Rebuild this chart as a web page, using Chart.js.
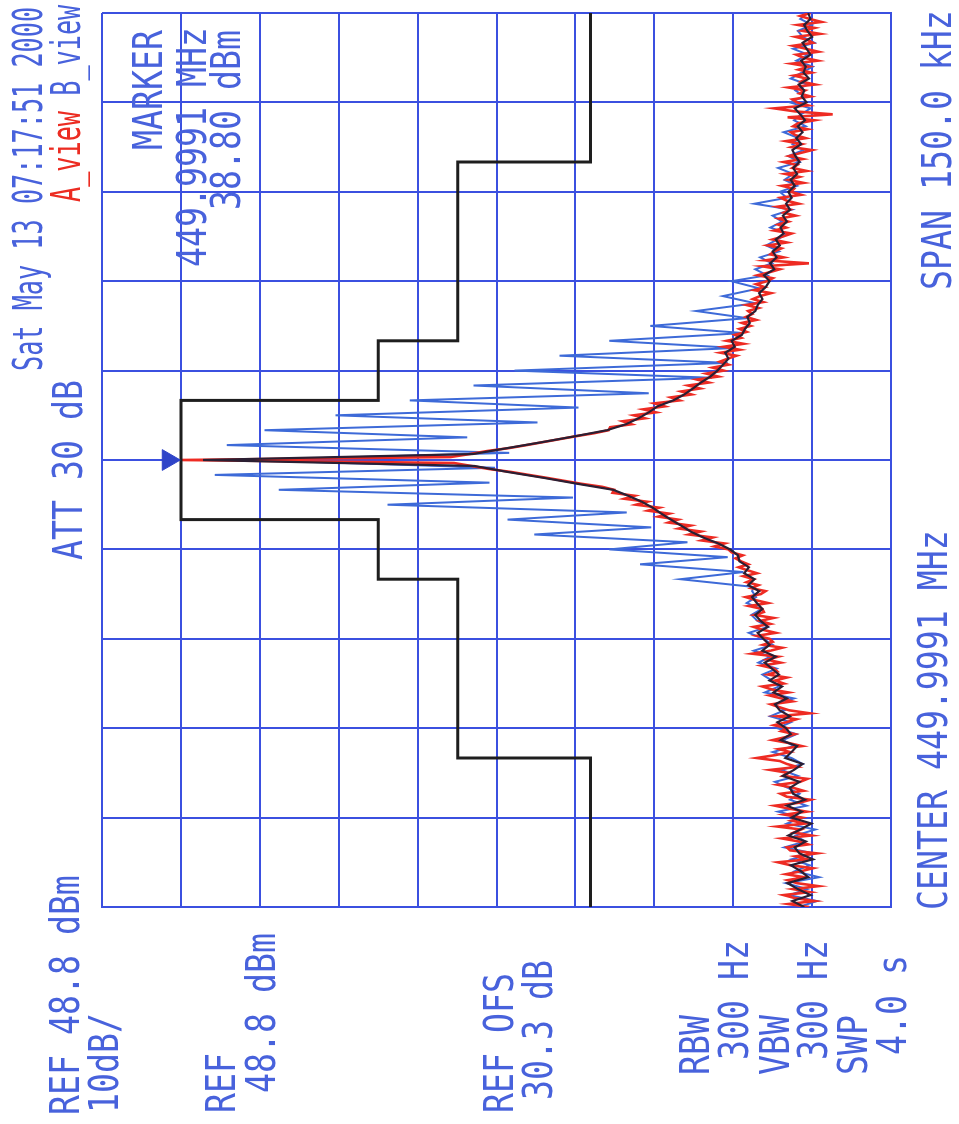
<!DOCTYPE html>
<html>
<head>
<meta charset="utf-8">
<script src="https://cdn.jsdelivr.net/npm/chart.js@4.4.1/dist/chart.umd.min.js"></script>
<style>
  html, body { margin: 0; padding: 0; background: #fff; overflow: hidden; }
  /* the analyzer screen is drawn upright, then turned a quarter turn to the left */
  #screen {
    position: absolute; left: 0; top: 0; width: 1124px; height: 959px;
    transform-origin: 0 0; transform: translateY(1124px) rotate(-90deg);
    background: #fff;
  }
  #screen canvas { position: absolute; left: 0; top: 0; }
  .t {
    position: absolute; font-family: "DejaVu Sans Mono", monospace;
    font-size: 40px; line-height: 40px; color: #4862dc; white-space: pre;
    transform-origin: 0 0; transform: scaleX(0.83);
  }
  .hd { transform: scaleX(0.63); }
  .red { color: #ec2c22; }
</style>
</head>
<body>
<div id="screen">
  <canvas id="chart" width="1124" height="959"></canvas>

  <div class="t hd" style="left:753px; top:8px">Sat May 13 07:17:51 2000</div>
  <div class="t hd" style="left:922px; top:46px"><span class="red">A_view</span> B_view</div>
  <div class="t" style="left:564px; top:48px">ATT 30 dB</div>

  <div class="t" style="left:974px; top:128px">MARKER</div>
  <div class="t" style="left:857px; top:172px">449.9991 MHz</div>
  <div class="t" style="left:914px; top:206px">38.80 dBm</div>

  <div class="t" style="left:834px; top:917px">SPAN 150.0 kHz</div>
  <div class="t" style="left:214px; top:913px">CENTER 449.9991 MHz</div>

  <div class="t" style="left:9px; top:45px">REF 48.8 dBm</div>
  <div class="t" style="left:11px; top:84px">10dB/</div>
  <div class="t" style="left:11px; top:201px">REF</div>
  <div class="t" style="left:31px; top:241px">48.8 dBm</div>
  <div class="t" style="left:11px; top:479px">REF OFS</div>
  <div class="t" style="left:24px; top:518px">30.3 dB</div>
  <div class="t" style="left:49px; top:675px">RBW</div>
  <div class="t" style="left:64px; top:714px">300 Hz</div>
  <div class="t" style="left:49px; top:755px">VBW</div>
  <div class="t" style="left:64px; top:793px">300 Hz</div>
  <div class="t" style="left:49px; top:833px">SWP</div>
  <div class="t" style="left:69px; top:872px">4.0 s</div>
</div>

<script>
// frequency offset from centre, kHz (span 150 kHz, 15 kHz/div)
const gridFreq = [-75, -60, -45, -30, -15, 0, 15, 30, 45, 60, 75];
// power, dBm (ref 48.8 dBm, 10 dB/div)
const gridDbm = [48.8, 38.8, 28.8, 18.8, 8.8, -1.2, -11.2, -21.2, -31.2, -41.2, -51.2];

// A_view (red), one reading every 0.5 kHz from -75 to +75
const redStart = -75, redStep = 0.5;
const redDbm = [
  -40.8, -38.2, -41.5, -39.0, -37.6, -40.9, -38.8, -42.0, -39.3, -38.1,
  -40.2, -37.9, -39.8, -41.3, -38.5, -36.9, -40.6, -39.1, -41.8, -38.4,
  -38.0, -40.7, -39.5, -37.4, -41.1, -38.9, -39.8, -36.8, -40.3, -38.6,
  -39.9, -37.7, -40.5, -38.3, -36.5, -39.6, -41.0, -38.0, -37.2, -40.1,
  -38.8, -36.9, -39.7, -40.6, -37.5, -38.2, -35.9, -39.3, -38.0, -37.1,
  -34.2, -36.6, -38.4, -37.0, -39.9, -38.3, -36.2, -37.8, -39.0, -37.3,
  -38.1, -36.4, -37.9, -39.2, -36.8, -40.9, -38.3, -37.1, -36.0, -38.7,
  -37.3, -35.8, -38.2, -36.1, -34.9, -37.6, -36.5, -38.0, -35.6, -36.8,
  -36.4, -34.8, -37.2, -35.5, -36.9, -33.6, -35.9, -37.4, -35.0, -36.2,
  -35.8, -34.2, -36.6, -35.0, -33.8, -35.9, -34.6, -36.3, -33.9, -35.1,
  -34.9, -33.2, -35.6, -34.0, -32.8, -34.7, -35.3, -33.5, -34.4, -32.9,
  -33.8, -32.5, -34.2, -33.0, -31.9, -33.1, -32.2, -31.5, -32.4, -31.0,
  -30.6, -28.8, -30.1, -27.2, -28.6, -25.6, -27.1, -24.3, -25.8, -23.0,
  -24.2, -21.7, -23.1, -20.4, -21.8, -18.9, -20.3, -17.4, -18.7, -15.9,
  -16.1, -14.6, -12.0, -9.8, -7.6, -5.3, -3.0, -0.2, 2.0, 4.2,
  38.8,
  4.6, 2.2, 0.0, -2.8, -5.0, -7.1, -9.2, -11.3, -13.6, -15.4,
  -15.6, -18.3, -17.2, -20.0, -18.6, -21.4, -19.8, -22.5, -21.2, -24.4,
  -23.3, -25.9, -24.6, -27.0, -25.5, -28.1, -26.6, -29.3, -27.8, -30.0,
  -28.6, -30.6, -29.5, -30.5, -31.6, -29.6, -32.0, -30.0, -32.5, -30.4,
  -32.2, -31.4, -32.9, -32.0, -33.4, -32.3, -34.1, -32.8, -33.6, -33.1,
  -34.4, -32.9, -35.0, -33.7, -34.6, -36.0, -33.9, -35.2, -34.1, -35.5,
  -36.2, -34.3, -35.8, -37.1, -34.9, -40.8, -35.3, -37.6, -35.9, -36.4,
  -37.3, -35.6, -38.0, -36.2, -37.5, -38.6, -36.4, -37.9, -36.9, -38.2,
  -37.0, -39.1, -37.6, -38.4, -36.8, -39.5, -38.0, -37.2, -39.8, -38.5,
  -38.9, -37.4, -40.1, -38.2, -39.6, -37.8, -40.5, -38.7, -39.3, -37.6,
  -40.0, -38.3, -39.7, -41.2, -38.6, -39.9, -37.9, -40.4, -39.1, -38.5,
  -40.6, -38.8, -39.4, -41.5, -38.1, -43.8, -39.0, -36.4, -40.7, -39.3,
  -38.7, -41.0, -39.6, -40.3, -38.2, -41.6, -39.8, -40.5, -38.9, -41.1,
  -39.5, -40.8, -38.6, -41.9, -40.1, -39.2, -42.0, -40.4, -38.8, -41.3,
  -40.6, -39.1, -42.2, -40.0, -41.5, -39.4, -42.4, -40.9, -39.7, -41.0
];

// B_view (blue): noise floor below -22 kHz and above +32 kHz, 1 kHz apart
const blueLowStart = -75;
const blueLowDbm = [
  -39.5, -41.8, -38.3, -40.6, -37.9, -42.1, -39.0, -40.9, -38.6, -41.4,
  -37.7, -40.3, -39.1, -41.6, -38.0, -39.8, -36.9, -40.5, -38.4, -39.6,
  -38.1, -36.5, -39.4, -37.3, -40.0, -38.6, -36.2, -38.9, -37.5, -39.2,
  -36.8, -38.5, -35.9, -37.7, -36.4, -38.9, -35.2, -37.0, -36.1, -34.9,
  -36.7, -34.4, -35.9, -33.8, -36.2, -35.0, -33.2, -35.6, -34.3, -33.5,
  -34.8, -32.9, -34.1
];
// B_view sidebands: peaks every 2.5 kHz with the dips between them
const blueMidFreq = [
  -22, -21.3, -20, -18.8, -17.5, -16.3, -15, -13.8, -12.5, -11.3,
  -10, -8.8, -7.5, -6.3, -5, -3.8, -2.5, -1.3, 0, 1.2,
  2.5, 3.8, 5, 6.3, 7.5, 8.8, 10, 11.2, 12.5, 13.8,
  15, 16.3, 17.5, 18.8, 20, 21.3, 22.5, 23.8, 25, 26.3,
  27.5, 28.8, 30, 31, 32
];
const blueMidDbm = [
  -33.6, -33.8, -24.5, -32.5, -19.4, -30.5, -15.5, -25.4, -6.0, -20.8,
  -2.6, -17.7, 12.6, -10.9, 26.4, -0.3, 34.5, -1.0, 30.0, -2.8,
  33.0, 2.5, 28.2, -6.4, 19.2, -11.6, 9.8, -20.5, 1.7, -28.5,
  -3.5, -30.5, -9.2, -31.5, -15.5, -32.5, -20.7, -33.0, -26.5, -34.0,
  -29.9, -34.5, -31.0, -35.5, -34.0
];
const blueHighStart = 33;
const blueHighDbm = [
  -36.1, -34.6, -37.0, -35.4, -36.8, -38.1, -35.9, -37.4, -36.2, -38.6,
  -33.9, -38.0, -37.1, -39.3, -37.7, -38.8, -36.9, -39.6, -38.2, -40.1,
  -38.7, -39.5, -37.6, -40.4, -38.9, -39.8, -41.0, -38.4, -40.2, -39.1,
  -40.6, -38.5, -39.9, -41.3, -39.2, -40.7, -38.8, -41.5, -40.0, -39.4,
  -41.2, -39.7, -40.6
];

// dark trace where both views overprint, 1 kHz apart from -75 to +75
const darkStart = -75, darkStep = 1;
const darkDbm = [
  -40.2, -38.7, -41.0, -39.4, -38.1, -40.7, -39.8, -38.5, -41.3, -39.6,
  -39.0, -40.4, -38.2, -39.7, -41.1, -38.6, -39.9, -38.0, -40.3, -38.8,
  -38.4, -39.6, -37.5, -38.9, -40.0, -37.8, -38.6, -39.3, -37.2, -38.5,
  -37.9, -36.8, -38.4, -37.1, -36.5, -38.0, -36.3, -37.4, -35.8, -37.0,
  -36.1, -35.2, -36.6, -34.9, -35.8, -35.0, -34.3, -35.6, -34.7, -34.0,
  -34.9, -34.2, -33.6, -34.5, -33.1, -33.9, -32.6, -33.2, -32.0, -31.8,
  -30.8, -29.3, -27.4, -25.8, -24.6, -23.3, -22.1, -21.0, -19.6, -17.9,
  -16.0, -11.5, -7.2, -2.6, 1.6,
  36.0,
  1.8, -2.6, -7.0, -11.2, -15.2,
  -17.6, -19.2, -20.5, -21.6, -23.6, -25.0, -26.1, -27.1, -28.3, -29.2,
  -29.9, -30.6, -30.2, -31.4, -31.0, -32.3, -32.7, -33.3, -33.0, -34.0,
  -34.3, -34.9, -34.5, -35.3, -35.8, -35.1, -36.4, -35.9, -36.7, -36.2,
  -37.1, -36.6, -37.6, -37.2, -38.0, -37.5, -38.4, -37.9, -38.6, -38.2,
  -39.0, -38.5, -39.3, -38.8, -39.6, -39.1, -38.7, -39.8, -39.2, -40.0,
  -39.4, -40.3, -39.7, -39.0, -40.5, -39.9, -40.2, -39.5, -40.8, -40.1,
  -40.4, -39.8, -41.0, -40.5, -40.0, -41.2, -40.6, -40.2, -41.0, -40.7
];

// limit mask
const limitFreq = [-75, -50, -50, -20, -20, -10, -10, 10, 10, 20, 20, 50, 50, 75];
const limitDbm = [-13.1, -13.1, 3.7, 3.7, 13.8, 13.8, 38.8, 38.8, 13.8, 13.8, 3.7, 3.7, -13.1, -13.1];

// marker triangle sitting on the carrier peak
const markerFreq = [0];
const markerDbm = [40.4];

const sweep = (vals, start, step) => vals.map((v, i) => ({ x: start + i * step, y: v }));
const pairs = (xs, ys) => xs.map((x, i) => ({ x: x, y: ys[i] }));

const redPts = sweep(redDbm, redStart, redStep);
const bluePts = sweep(blueLowDbm, blueLowStart, 1)
  .concat(pairs(blueMidFreq, blueMidDbm))
  .concat(sweep(blueHighDbm, blueHighStart, 1));
const darkPts = sweep(darkDbm, darkStart, darkStep);

const gridBlue = "#3b50e0";

new Chart(document.getElementById("chart"), {
  type: "scatter",
  data: {
    datasets: [
      {
        label: "marker",
        data: pairs(markerFreq, markerDbm),
        pointStyle: "triangle",
        rotation: 180,
        pointRadius: 12,
        backgroundColor: "#2f44c8",
        borderColor: "#2f44c8",
      },
      {
        label: "limit",
        data: pairs(limitFreq, limitDbm),
        showLine: true,
        borderColor: "#1e1e1e",
        borderWidth: 3,
        pointRadius: 0,
      },
      {
        label: "dark",
        data: darkPts,
        showLine: true,
        borderColor: "#2b1f33",
        borderWidth: 2.2,
        pointRadius: 0,
      },
      {
        label: "A_view",
        data: redPts,
        showLine: true,
        borderColor: "#ee2b23",
        borderWidth: 2.6,
        pointRadius: 0,
      },
      {
        label: "B_view",
        data: bluePts,
        showLine: true,
        borderColor: "#3d6ad8",
        borderWidth: 2,
        pointRadius: 0,
      },
    ],
  },
  options: {
    responsive: false,
    animation: false,
    layout: { padding: { left: 217, right: 6, top: 102, bottom: 68 } },
    plugins: { legend: { display: false }, tooltip: { enabled: false } },
    scales: {
      x: {
        type: "linear",
        min: -75,
        max: 75,
        afterBuildTicks: (s) => { s.ticks = gridFreq.map((v) => ({ value: v })); },
        ticks: { display: false },
        grid: { color: gridBlue, lineWidth: 2, drawTicks: false },
        border: { color: gridBlue, width: 2 },
      },
      y: {
        type: "linear",
        min: -51.2,
        max: 48.8,
        afterBuildTicks: (s) => { s.ticks = gridDbm.map((v) => ({ value: v })); },
        ticks: { display: false },
        grid: { color: gridBlue, lineWidth: 2, drawTicks: false },
        border: { color: gridBlue, width: 2 },
      },
    },
  },
});
</script>
</body>
</html>
